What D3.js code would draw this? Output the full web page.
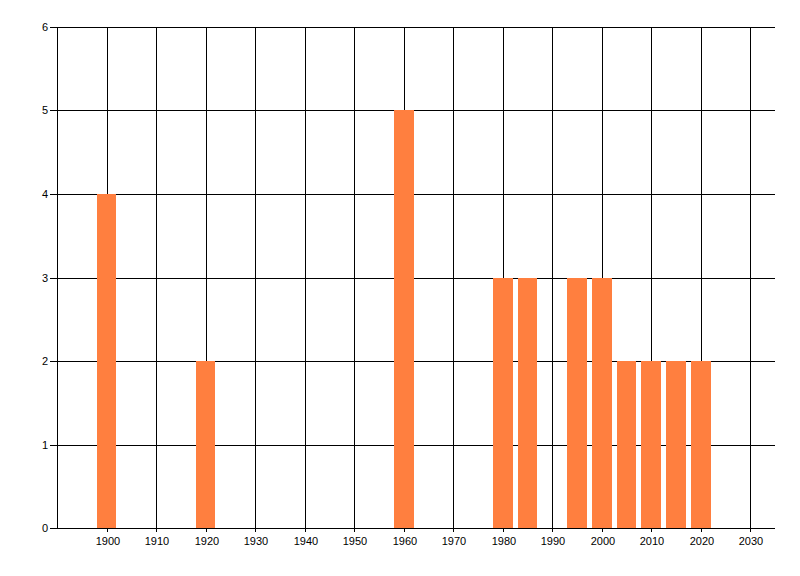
<!DOCTYPE html>
<html>
<head>
<meta charset="utf-8">
<script src="https://cdn.jsdelivr.net/npm/d3@7"></script>
<style>
  body { margin: 0; background: #fff; }
  svg text { font-family: "Liberation Sans", Arial, sans-serif; font-size: 11px; fill: #000; }
</style>
</head>
<body>
<svg width="800" height="576"></svg>
<script>
// values
const years = [1900, 1920, 1960, 1980, 1985, 1995, 2000, 2005, 2010, 2015, 2020];
const counts = [4, 2, 5, 3, 3, 3, 3, 2, 2, 2, 2];
const xTicks = [1900, 1910, 1920, 1930, 1940, 1950, 1960, 1970, 1980, 1990, 2000, 2010, 2020, 2030];
const yTicks = [0, 1, 2, 3, 4, 5, 6];

const plotLeft = 57, plotRight = 775, plotTop = 27, plotBottom = 528;
const svg = d3.select("svg");

const x = d3.scaleLinear().domain([1890, 2035]).range([plotLeft, plotRight]);
const y = d3.scaleLinear().domain([0, 6]).range([plotBottom, plotTop]);

// horizontal grid + y ticks
const gy = svg.append("g");
gy.selectAll("line")
    .data(yTicks)
    .enter().append("line")
    .attr("x1", plotLeft - 7)
    .attr("x2", plotRight)
    .attr("y1", d => Math.round(y(d)) + 0.5)
    .attr("y2", d => Math.round(y(d)) + 0.5)
    .attr("stroke", "#000");
gy.selectAll("text")
    .data(yTicks)
    .enter().append("text")
    .attr("x", plotLeft - 9)
    .attr("y", d => Math.round(y(d)) + 4)
    .attr("text-anchor", "end")
    .text(d => d);

// vertical grid + x ticks
const gx = svg.append("g");
gx.selectAll("line")
    .data(xTicks)
    .enter().append("line")
    .attr("x1", d => Math.round(x(d)) + 0.5)
    .attr("x2", d => Math.round(x(d)) + 0.5)
    .attr("y1", plotTop)
    .attr("y2", plotBottom + 4)
    .attr("stroke", "#000");
gx.selectAll("text")
    .data(xTicks)
    .enter().append("text")
    .attr("x", d => Math.round(x(d)) + 1)
    .attr("y", plotBottom + 17)
    .attr("text-anchor", "middle")
    .text(d => d);

// bars
svg.append("g").selectAll("rect")
    .data(years)
    .enter().append("rect")
    .attr("x", d => Math.round(x(d - 2)))
    .attr("width", d => Math.round(x(d + 2)) - Math.round(x(d - 2)))
    .attr("y", (d, i) => Math.round(y(counts[i])))
    .attr("height", (d, i) => Math.round(y(0)) - Math.round(y(counts[i])))
    .style("fill", "#ff7f3f");

// axis lines
svg.append("line")
    .attr("x1", plotLeft + 0.5).attr("x2", plotLeft + 0.5)
    .attr("y1", plotTop).attr("y2", plotBottom + 1)
    .attr("stroke", "#000");
svg.append("line")
    .attr("x1", plotLeft).attr("x2", plotRight)
    .attr("y1", Math.round(y(0)) + 0.5).attr("y2", Math.round(y(0)) + 0.5)
    .attr("stroke", "#000");
</script>
</body>
</html>
